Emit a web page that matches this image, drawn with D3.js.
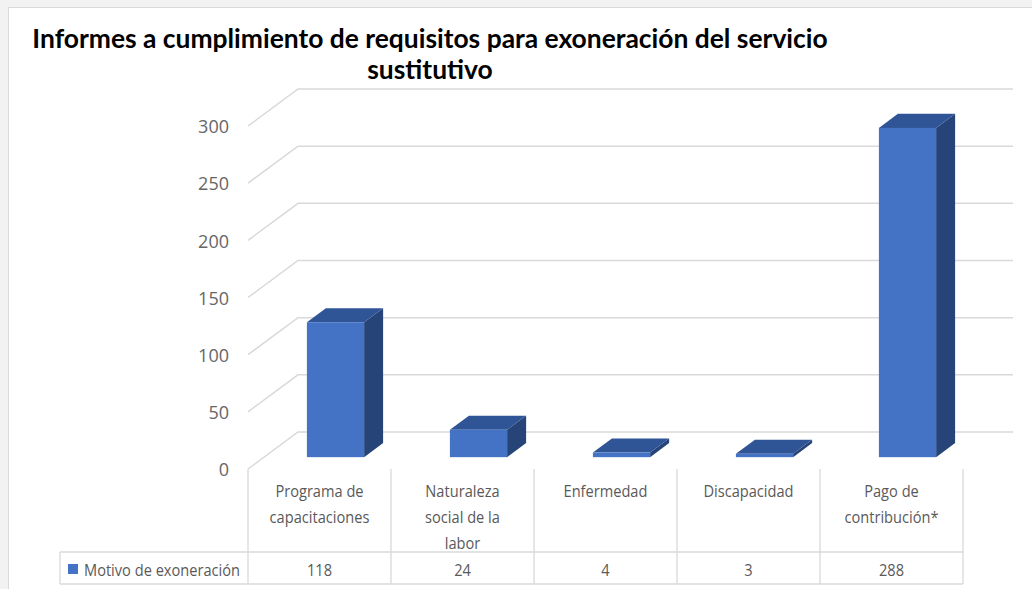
<!DOCTYPE html>
<html>
<head>
<meta charset="utf-8">
<script src="https://cdn.jsdelivr.net/npm/d3@7"></script>
<style>
body{margin:0;background:#f2f2f2;overflow:hidden;}
</style>
</head>
<body>
<script>
//chart values
var titleLines = ["Informes a cumplimiento de requisitos para exoneración del servicio", "sustitutivo"];
var categories = ["Programa de capacitaciones", "Naturaleza social de la labor", "Enfermedad", "Discapacidad", "Pago de contribución*"];
var labelLines = [["Programa de", "capacitaciones"], ["Naturaleza", "social de la", "labor"], ["Enfermedad"], ["Discapacidad"], ["Pago de", "contribución*"]];
var values = [118, 24, 4, 3, 288];
var seriesName = "Motivo de exoneración";
var yTicks = [0, 50, 100, 150, 200, 250, 300];

(function(){

window.onload = setChart();

function setChart(){
    var width = 1032,
        height = 589;

    var svg = d3.select("body")
        .append("svg")
        .attr("width", width)
        .attr("height", height);

    //chart frame
    svg.append("rect")
        .attr("x", 8.5).attr("y", 7.5)
        .attr("width", 1100).attr("height", 700)
        .attr("fill", "#fff")
        .attr("stroke", "#d9d9d9");

    //depth of the 3d box (back wall offset) and bar depth range
    var DX = 50, DY = -37;
    var z0 = 0.32, z1 = 0.70;

    var x = d3.scaleBand()
        .domain(categories)
        .range([248, 963]);
    var bw = x.bandwidth();

    var y = d3.scaleLinear()
        .domain([0, 300])
        .range([469, 126]);

    //gridlines: front-left corner, back wall, across
    svg.selectAll(".grid")
        .data(yTicks)
        .enter()
        .append("path")
        .attr("class", "grid")
        .attr("fill", "none")
        .attr("stroke", "#d9d9d9")
        .attr("stroke-width", 1.5)
        .attr("d", function(d){
            var yf = y(d);
            return "M" + x.range()[0] + "," + yf +
                "L" + (x.range()[0] + DX) + "," + (yf + DY) +
                "L" + (x.range()[1] + DX) + "," + (yf + DY);
        });

    //y axis labels
    var yAxis = d3.axisLeft(y)
        .tickValues(yTicks)
        .tickSize(0)
        .tickPadding(0);
    var gy = svg.append("g")
        .attr("transform", "translate(229,1)")
        .call(yAxis);
    gy.select(".domain").remove();
    gy.selectAll("text")
        .attr("font-family", "'Open Sans', sans-serif")
        .attr("font-size", 18)
        .attr("fill", "#666");

    //bars
    var ddx = (z1 - z0) * DX, ddy = (z1 - z0) * DY;
    var bars = svg.selectAll(".bar")
        .data(values)
        .enter()
        .append("g")
        .attr("class", "bar");

    function geom(d, i){
        var x0 = x(categories[i]) + bw * 0.3 + z0 * DX;
        return {x0: x0, x1: x0 + bw * 0.4, yt: y(d) + z0 * DY, yb: y(0) + z0 * DY};
    }

    bars.append("path")
        .attr("fill", "#264478")
        .attr("d", function(d, i){
            var g = geom(d, i);
            return "M" + g.x1 + "," + g.yt + "L" + (g.x1 + ddx) + "," + (g.yt + ddy) +
                "L" + (g.x1 + ddx) + "," + (g.yb + ddy) + "L" + g.x1 + "," + g.yb + "Z";
        });
    bars.append("path")
        .attr("fill", "#2f5597")
        .attr("d", function(d, i){
            var g = geom(d, i);
            return "M" + g.x0 + "," + g.yt + "L" + g.x1 + "," + g.yt +
                "L" + (g.x1 + ddx) + "," + (g.yt + ddy) + "L" + (g.x0 + ddx) + "," + (g.yt + ddy) + "Z";
        });
    bars.append("rect")
        .attr("fill", "#4472c4")
        .attr("x", function(d, i){ return geom(d, i).x0; })
        .attr("y", function(d, i){ return geom(d, i).yt; })
        .attr("width", bw * 0.4)
        .attr("height", function(d, i){ var g = geom(d, i); return g.yb - g.yt; });

    //data table lines
    var tTop = y(0), tMid = 552, tBot = 584, tLeft = 60;
    var grid = svg.append("g")
        .attr("stroke", "#d9d9d9")
        .attr("stroke-width", 1.3);
    grid.append("line").attr("x1", tLeft).attr("x2", x.range()[1]).attr("y1", tMid).attr("y2", tMid);
    grid.append("line").attr("x1", tLeft).attr("x2", x.range()[1]).attr("y1", tBot).attr("y2", tBot);
    grid.append("line").attr("x1", tLeft).attr("x2", tLeft).attr("y1", tMid).attr("y2", tBot);
    grid.selectAll(".vdiv")
        .data(categories.concat(["end"]))
        .enter()
        .append("line")
        .attr("x1", function(d, i){ return x.range()[0] + i * bw; })
        .attr("x2", function(d, i){ return x.range()[0] + i * bw; })
        .attr("y1", tTop)
        .attr("y2", tBot);

    //condensed look for the table text: squeeze horizontally around each anchor
    var labelFont = "'Open Sans', sans-serif",
        squeeze = 0.86;
    function squeezeAt(cx){
        return "translate(" + cx + ",0) scale(" + squeeze + ",1) translate(" + (-cx) + ",0)";
    }

    //category labels
    var cats = svg.selectAll(".cat")
        .data(categories)
        .enter()
        .append("text")
        .attr("class", "cat")
        .attr("text-anchor", "middle")
        .attr("font-family", labelFont)
        .attr("font-size", 17)
        .attr("fill", "#595959")
        .attr("transform", function(d){ return squeezeAt(x(d) + bw / 2); });
    cats.each(function(d, i){
        var t = d3.select(this);
        labelLines[i].forEach(function(line, k){
            t.append("tspan")
                .attr("x", x(d) + bw / 2)
                .attr("y", 497 + k * 26)
                .text(line);
        });
    });

    //value row
    svg.selectAll(".val")
        .data(values)
        .enter()
        .append("text")
        .attr("class", "val")
        .attr("text-anchor", "middle")
        .attr("font-family", labelFont)
        .attr("font-size", 17)
        .attr("fill", "#595959")
        .attr("x", function(d, i){ return x(categories[i]) + bw / 2; })
        .attr("y", 576)
        .attr("transform", function(d, i){ return squeezeAt(x(categories[i]) + bw / 2); })
        .text(function(d){ return d; });

    //legend key in table
    svg.append("rect")
        .attr("x", 68).attr("y", 564)
        .attr("width", 10).attr("height", 10)
        .attr("fill", "#4472c4");
    svg.append("text")
        .attr("x", 84).attr("y", 576)
        .attr("font-family", labelFont)
        .attr("font-size", 17)
        .attr("fill", "#595959")
        .attr("transform", squeezeAt(84))
        .text(seriesName);

    //title, sized to match the original line width
    var title = svg.selectAll(".title")
        .data(titleLines)
        .enter()
        .append("text")
        .attr("class", "title")
        .attr("text-anchor", "middle")
        .attr("x", 430)
        .attr("y", function(d, i){ return 48 + i * 31; })
        .attr("font-family", "Lato, sans-serif")
        .attr("font-weight", "bold")
        .attr("font-size", 22)
        .attr("fill", "#000")
        .text(function(d){ return d; });
    var w = title.node().getComputedTextLength();
    title.attr("font-size", 22 * 796 / w);
};

})();
</script>
</body>
</html>
